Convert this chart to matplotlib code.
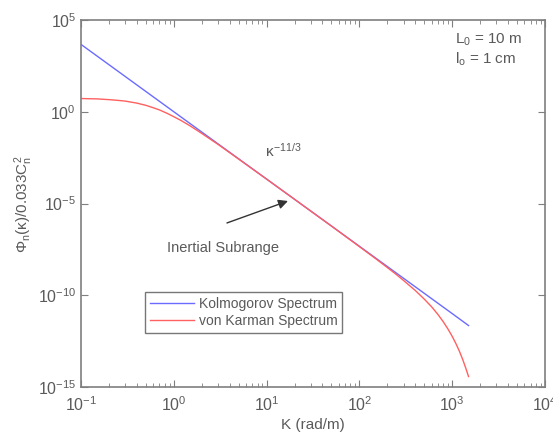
import numpy as np
import matplotlib.pyplot as plt
from matplotlib.ticker import LogLocator, NullFormatter

plt.rcParams["font.family"] = ["Liberation Sans", "DejaVu Sans"]
plt.rcParams["mathtext.fontset"] = "custom"
plt.rcParams["mathtext.rm"] = "Liberation Sans"
plt.rcParams["mathtext.it"] = "Liberation Sans"
plt.rcParams["mathtext.sf"] = "Liberation Sans"
plt.rcParams["axes.unicode_minus"] = False

# wavenumber samples (rad/m) and log10 of normalised spectrum
k_kol = [0.1, 1, 10, 100, 1000, 1500]
logphi_kol = [3.67, 0.0, -3.67, -7.33, -11.0, -11.65]

k_vk = [0.1, 0.15, 0.2, 0.25, 0.3, 0.4, 0.5, 0.6, 0.7, 0.85, 1, 1.2, 1.5, 2,
        2.5, 3, 4, 5, 7, 10, 20, 50, 100, 150, 200, 250, 300, 400, 500, 600,
        700, 800, 900, 1000, 1100, 1200, 1300, 1400, 1500]
logphi_vk = [0.72, 0.70, 0.66, 0.62, 0.58, 0.47, 0.35, 0.22, 0.10, -0.09,
             -0.27, -0.48, -0.77, -1.18, -1.51, -1.78, -2.23, -2.58, -3.11,
             -3.67, -4.77, -6.23, -7.35, -8.01, -8.49, -8.87, -9.20, -9.74,
             -10.21, -10.63, -11.04, -11.44, -11.84, -12.24, -12.65, -13.07,
             -13.51, -13.97, -14.43]

gray = "#7f7f7f"
tcol = "#5a5a5a"

fig = plt.figure(figsize=(5.53, 4.38), dpi=100)
ax = fig.add_axes([81/553, 1 - 387/438, 464/553, 367/438])

ax.loglog(k_kol, 10.0 ** np.array(logphi_kol), color="#6b6bff", lw=1.0,
          label="Kolmogorov Spectrum")
ax.loglog(k_vk, 10.0 ** np.array(logphi_vk), color="#ff6060", lw=1.0,
          label="von Karman Spectrum")

ax.set_xlim(1e-1, 1e4)
ax.set_ylim(1e-15, 1e5)
ax.xaxis.set_major_locator(LogLocator(base=10, numticks=10))
ax.xaxis.set_minor_locator(LogLocator(base=10, subs=np.arange(2, 10), numticks=20))
ax.xaxis.set_minor_formatter(NullFormatter())
ax.set_yticks([1e-15, 1e-10, 1e-5, 1e0, 1e5])
ax.yaxis.set_minor_locator(plt.NullLocator())

ax.tick_params(which="both", direction="in", top=True, right=True,
               colors=gray, labelcolor=tcol, labelsize=11.5)
ax.tick_params(which="major", length=5)
ax.tick_params(which="minor", length=3)
ax.tick_params(axis="x", pad=6)
for s in ax.spines.values():
    s.set_color(gray)
    s.set_linewidth(1.2)

ax.set_xlabel("K (rad/m)", color=tcol, fontsize=11, labelpad=3)
ax.set_ylabel(r"$\Phi_n(\kappa)/0.033C_n^2$", color=tcol, fontsize=11, labelpad=2)

ax.text(0.805, 0.935, r"L$_0$ = 10 m", transform=ax.transAxes, color=tcol, fontsize=11)
ax.text(0.805, 0.88, r"l$_o$ = 1 cm", transform=ax.transAxes, color=tcol, fontsize=11)
ax.text(9.6, 3.4e-3, r"$\kappa^{-11/3}$", color=tcol, fontsize=11, va="baseline")
ax.text(3.39, 3.8e-8, "Inertial Subrange", color=tcol, fontsize=10.5,
        ha="center", va="center")
ax.annotate("", xy=(17.0, 1.37e-5), xytext=(3.74, 8.7e-7),
            arrowprops=dict(arrowstyle="-|>", color="#333333", lw=1.0,
                            mutation_scale=14, shrinkA=0, shrinkB=0))

leg = ax.legend(loc="lower left", bbox_to_anchor=(0.138, 0.147), fontsize=10,
                frameon=True, fancybox=False, handlelength=3.2,
                borderpad=0.35, labelspacing=0.25, handletextpad=0.3,
                borderaxespad=0)
leg.get_frame().set_edgecolor("#555555")
leg.get_frame().set_linewidth(1.0)
for t in leg.get_texts():
    t.set_color(tcol)

fig.savefig("out.png", dpi=100)
